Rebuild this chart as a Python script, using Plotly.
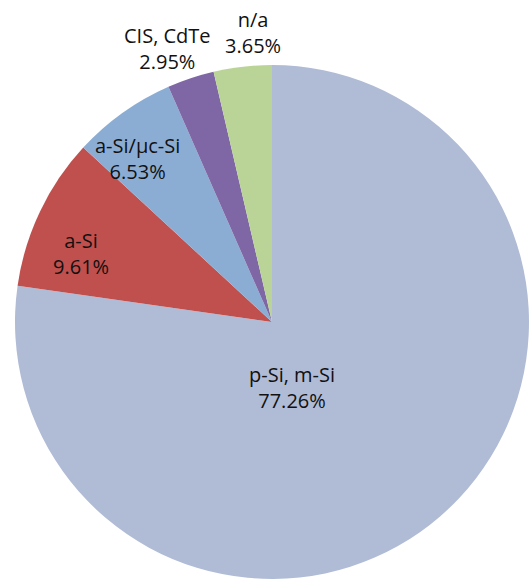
import math
import plotly.graph_objects as go

labels = ["p-Si, m-Si", "a-Si", "a-Si/µc-Si", "CIS, CdTe", "n/a"]
values = [77.26, 9.61, 6.53, 2.95, 3.65]
colors = ["#B0BCD6", "#C0504D", "#8CADD3", "#7F67A5", "#BAD497"]
label_radius = [0.265, 0.79, 0.825, 1.14, 1.13]
label_angle_shift = [24, -5.6, -4, -2.4, 2.9]

W, H = 532, 579
cx_px, cy_px, R = 272, 322, 257
dom_x = [(cx_px - R) / W, (cx_px + R) / W]
dom_y = [(H - cy_px - R) / H, (H - cy_px + R) / H]

fig = go.Figure(go.Pie(
    labels=labels, values=values, sort=False, direction="clockwise",
    rotation=0, marker=dict(colors=colors, line=dict(width=0)),
    textinfo="none", hoverinfo="label+percent", showlegend=False,
    domain=dict(x=dom_x, y=dom_y),
))

total = sum(values)
cum = 0.0
annotations = []
for lab, v, rf, sh in zip(labels, values, label_radius, label_angle_shift):
    mid = (cum + v / 2) / total * 2 * math.pi + math.radians(sh)
    cum += v
    px = cx_px + math.sin(mid) * R * rf
    py = cy_px - math.cos(mid) * R * rf
    annotations.append(dict(
        x=px / W, y=1 - py / H, xref="paper", yref="paper",
        text=f"{lab}<br>{v:.2f}%", showarrow=False,
        font=dict(family="Open Sans", size=20, color="#111111"),
        xanchor="center", yanchor="middle",
    ))

fig.update_layout(
    width=W, height=H, margin=dict(l=0, r=0, t=0, b=0),
    paper_bgcolor="white", plot_bgcolor="white",
    annotations=annotations,
)
fig.write_html("out.html", config={"displayModeBar": False},
               post_script="document.body.style.margin='0';document.body.style.overflow='hidden';")
